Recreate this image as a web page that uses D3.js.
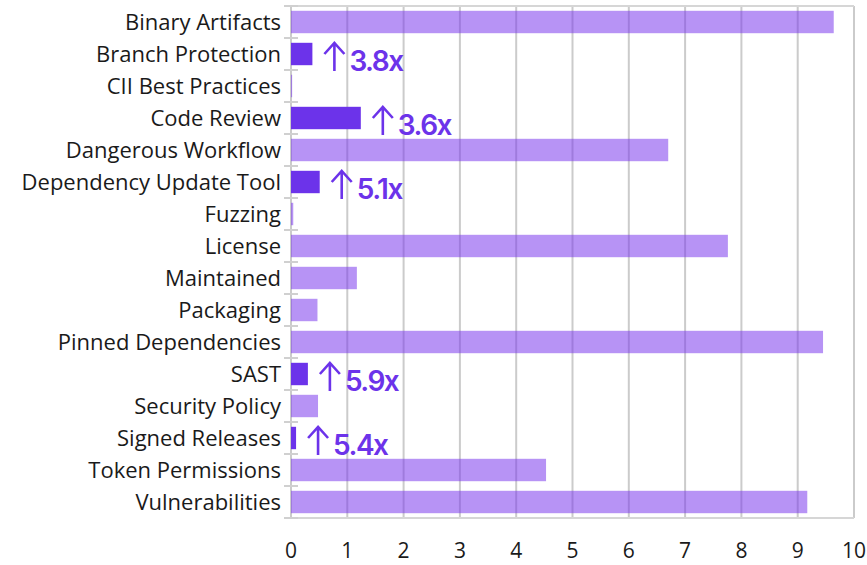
<!DOCTYPE html>
<html>
<head>
<meta charset="utf-8">
<script src="https://cdn.jsdelivr.net/npm/d3@7"></script>
<style>
  body { margin: 0; background: #fff; }
  svg text { font-family: "Open Sans", Lato, sans-serif; }
</style>
</head>
<body>
<script>
var categories = ["Binary Artifacts", "Branch Protection", "CII Best Practices", "Code Review",
  "Dangerous Workflow", "Dependency Update Tool", "Fuzzing", "License", "Maintained",
  "Packaging", "Pinned Dependencies", "SAST", "Security Policy", "Signed Releases",
  "Token Permissions", "Vulnerabilities"];
var values = [9.64, 0.38, 0.02, 1.24, 6.70, 0.51, 0.04, 7.76, 1.17, 0.47, 9.45, 0.30, 0.48, 0.09, 4.53, 9.17];
// growth multiplier for the highlighted checks
var growth = [null, "3.8x", null, "3.6x", null, "5.1x", null, null, null, null, null, "5.9x", null, "5.4x", null, null];
var xTicks = [0, 1, 2, 3, 4, 5, 6, 7, 8, 9, 10];

var width = 867, height = 565;
var margin = {top: 6, right: 13, bottom: 47, left: 291};

var svg = d3.select("body").append("svg").attr("width", width).attr("height", height);

var x = d3.scaleLinear().domain([0, 10]).range([margin.left, width - margin.right]);
var y = d3.scaleBand().domain(categories).range([margin.top, height - margin.bottom]).paddingInner(0.3).paddingOuter(0.15);

// grid
svg.append("g").selectAll("line").data(xTicks).join("line")
  .attr("x1", d => x(d)).attr("x2", d => x(d))
  .attr("y1", margin.top).attr("y2", height - margin.bottom)
  .attr("stroke", "#cbcbcb").attr("stroke-width", 2);
svg.append("line").attr("x1", margin.left).attr("x2", width - margin.right)
  .attr("y1", margin.top).attr("y2", margin.top).attr("stroke", "#d6d6d6").attr("stroke-width", 2);
svg.append("line").attr("x1", margin.left - 6).attr("x2", width - margin.right)
  .attr("y1", height - margin.bottom).attr("y2", height - margin.bottom).attr("stroke", "#d6d6d6").attr("stroke-width", 2);

// band boundary ticks on the left axis
var bounds = d3.range(categories.length + 1).map(i => margin.top + i * (height - margin.top - margin.bottom) / categories.length);
svg.append("g").selectAll("line").data(bounds).join("line")
  .attr("x1", margin.left - 7).attr("x2", margin.left + 7)
  .attr("y1", d => d).attr("y2", d => d)
  .attr("stroke", "#d0d0d0").attr("stroke-width", 2);

// bars
svg.append("g").selectAll("rect").data(categories).join("rect")
  .attr("x", x(0))
  .attr("y", d => y(d))
  .attr("height", y.bandwidth())
  .attr("width", (d, i) => x(values[i]) - x(0))
  .attr("fill", (d, i) => growth[i] ? "#6c33ea" : "#7c3aed")
  .attr("fill-opacity", (d, i) => growth[i] ? 1 : 0.55);

// growth labels: arrow + multiplier
var hl = categories.filter((d, i) => growth[i]);
var ann = svg.append("g").selectAll("g").data(hl).join("g")
  .attr("transform", d => "translate(" + (x(values[categories.indexOf(d)]) + 22) + "," + (y(d) + y.bandwidth() / 2) + ")");
ann.append("path")
  .attr("d", "M0,-11V17M-10,0L0,-11L10,0")
  .attr("fill", "none")
  .attr("stroke", "#6c33ea")
  .attr("stroke-width", 2.6);
ann.append("text")
  .attr("x", 15)
  .attr("y", 16.5)
  .attr("fill", "#6c33ea")
  .style("font-family", "Inter, sans-serif")
  .style("font-size", "28px")
  .style("font-weight", 600)
  .style("letter-spacing", "-1.5px")
  .text(d => growth[categories.indexOf(d)]);

// category labels
svg.append("g").selectAll("text").data(categories).join("text")
  .attr("x", margin.left - 10)
  .attr("y", d => y(d) + y.bandwidth() / 2)
  .attr("dy", "0.36em")
  .attr("text-anchor", "end")
  .attr("fill", "#1a1a1a")
  .style("font-size", "22px")
  .text(d => d);

// x tick labels
svg.append("g").selectAll("text").data(xTicks).join("text")
  .attr("x", d => x(d))
  .attr("y", 558)
  .attr("text-anchor", "middle")
  .attr("fill", "#1a1a1a")
  .style("font-size", "21px")
  .text(d => d);
</script>
</body>
</html>
